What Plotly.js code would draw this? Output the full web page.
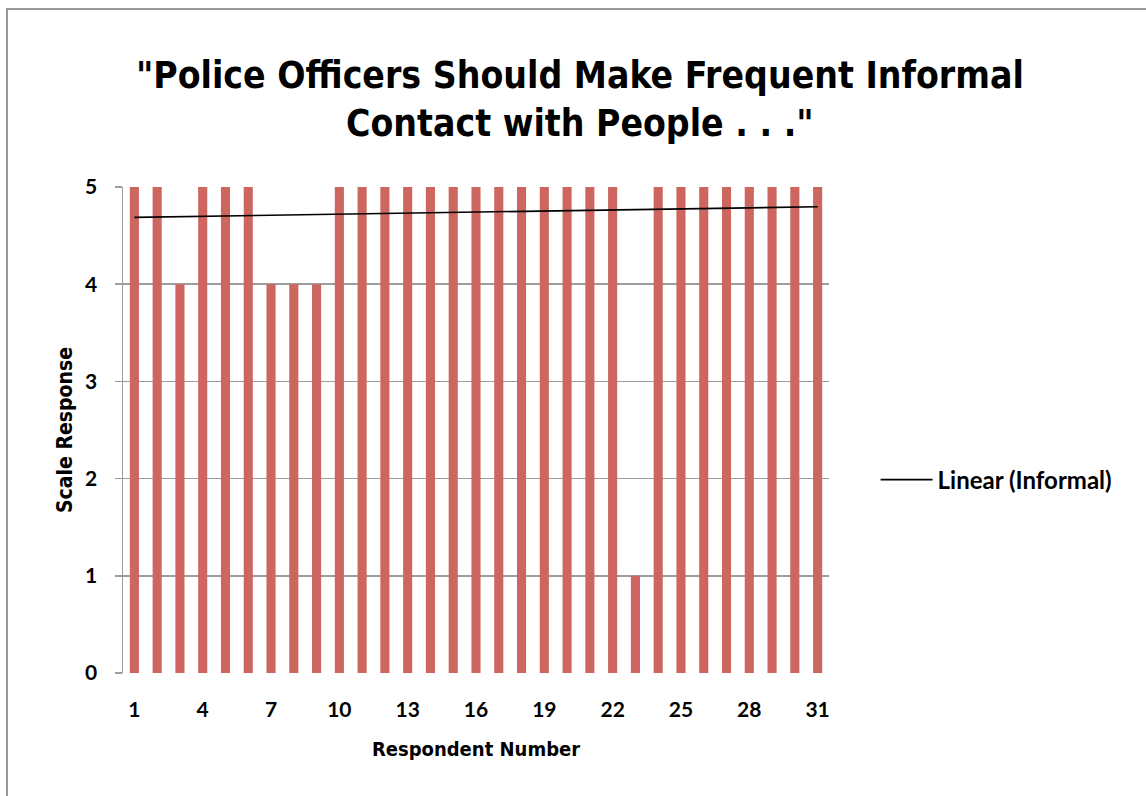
<!DOCTYPE html>
<html>
<head>
<meta charset="utf-8">
<script src="https://cdn.plot.ly/plotly-3.0.1.min.js"></script>
<style>
  html, body { margin: 0; padding: 0; background: #fff; }
  #frame { position: absolute; left: 6px; top: 8px; width: 1140px; height: 788px;
           border-top: 2px solid #9a9a9a; border-left: 2px solid #9a9a9a; box-sizing: border-box; }
  #chart { position: absolute; left: 0; top: 0; width: 1146px; height: 796px; }
</style>
</head>
<body>
<div id="frame"></div>
<div id="chart"></div>
<script>
// Survey responses per respondent (1 = strongly disagree ... 5 = strongly agree)
const respondents = [1,2,3,4,5,6,7,8,9,10,11,12,13,14,15,16,17,18,19,20,21,22,23,24,25,26,27,28,29,30,31];
const responses   = [5,5,4,5,5,5,4,4,4,5,5,5,5,5,5,5,5,5,5,5,5,5,1,5,5,5,5,5,5,5,5];
const xTickVals   = [1,4,7,10,13,16,19,22,25,28,31];
const yTickVals   = [0,1,2,3,4,5];

// Least-squares linear trend of the responses
function linearFit(xs, ys) {
  const n = xs.length;
  const mx = xs.reduce((a, b) => a + b, 0) / n;
  const my = ys.reduce((a, b) => a + b, 0) / n;
  let sxy = 0, sxx = 0;
  for (let i = 0; i < n; i++) { sxy += (xs[i] - mx) * (ys[i] - my); sxx += (xs[i] - mx) ** 2; }
  const slope = sxy / sxx;
  return x => my + slope * (x - mx);
}
const fit = linearFit(respondents, responses);
const trendX = [respondents[0], respondents[respondents.length - 1]];
const trendY = trendX.map(fit);

const heavy = '"DejaVu Sans Condensed", "Liberation Sans", sans-serif';
const tickFont = 'Lato, "Open Sans", sans-serif';

const bars = {
  type: 'bar',
  x: respondents,
  y: responses,
  width: 0.4,
  marker: { color: '#cd665f' },
  name: 'Informal',
  showlegend: false,
  hoverinfo: 'x+y'
};

const trend = {
  type: 'scatter',
  mode: 'lines',
  x: trendX,
  y: trendY,
  name: 'Linear (Informal)',
  line: { color: '#000', width: 1.6 },
  showlegend: true
};

const layout = {
  width: 1146,
  height: 796,
  paper_bgcolor: 'rgba(0,0,0,0)',
  plot_bgcolor: '#fff',
  margin: { l: 123, r: 317, t: 187, b: 123 },
  title: {
    text: '"Police Officers Should Make Frequent Informal<br>Contact with People . . ."',
    font: { family: heavy, size: 37, color: '#000', weight: 'bold' },
    x: 0.506, xanchor: 'center',
    y: 0.89, yanchor: 'top'
  },
  xaxis: {
    range: [0.5, 31.5],
    tickvals: xTickVals,
    ticktext: xTickVals.map(String),
    showgrid: false,
    zeroline: false,
    showline: false,
    ticks: '',
    ticklabelstandoff: 22,
    tickfont: { family: tickFont, size: 21, color: '#000', weight: 'bold' },
    title: { text: 'Respondent Number', font: { family: heavy, size: 20, color: '#000', weight: 'bold' }, standoff: 21 }
  },
  yaxis: {
    range: [0, 5],
    tickvals: yTickVals,
    showgrid: true,
    gridcolor: '#9d9d9d',
    gridwidth: 1.5,
    zeroline: false,
    showline: true,
    linecolor: '#9d9d9d',
    linewidth: 1.5,
    ticks: 'outside',
    ticklen: 7,
    tickcolor: '#9d9d9d',
    tickwidth: 1.5,
    ticklabelstandoff: 13,
    tickfont: { family: tickFont, size: 21, color: '#000', weight: 'bold' },
    title: { text: 'Scale Response', font: { family: heavy, size: 21, color: '#000', weight: 'bold' }, standoff: 7 }
  },
  showlegend: true,
  legend: {
    x: 1.066, xanchor: 'left',
    y: 0.397, yanchor: 'middle',
    itemwidth: 52,
    font: { family: tickFont, size: 24, color: '#000', weight: 'bold' },
    bgcolor: 'rgba(0,0,0,0)'
  },
  bargap: 0.6
};

Plotly.newPlot('chart', [bars, trend], layout, { displayModeBar: false, staticPlot: true });
</script>
</body>
</html>
